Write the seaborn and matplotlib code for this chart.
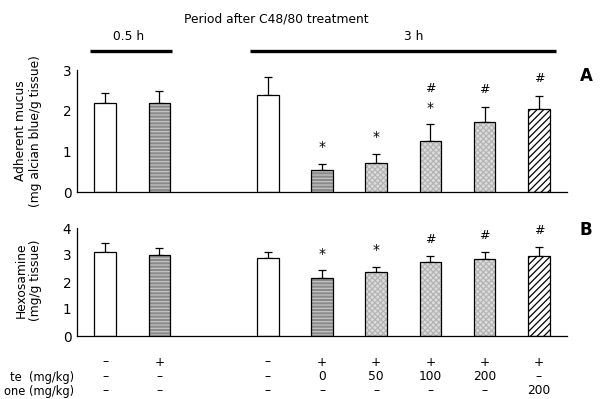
import matplotlib
matplotlib.use("Agg")
import matplotlib.pyplot as plt
import matplotlib.transforms as mtransforms
from matplotlib.patches import Rectangle
import numpy as np
import pandas as pd
import seaborn as sns


# groups (left to right)
conditions = ["0.5h vehicle", "0.5h C48/80", "3h vehicle", "3h C48/80",
              "3h C48/80 + 50", "3h C48/80 + 100", "3h C48/80 + 200", "3h C48/80 + ref"]

# panel A: adherent mucus (mg alcian blue / g tissue)
mucus_mean = [2.20, 2.18, 2.38, 0.55, 0.71, 1.26, 1.72, 2.05]
mucus_sem = [0.23, 0.30, 0.44, 0.14, 0.23, 0.40, 0.38, 0.32]
mucus_sig = ["", "", "", "*", "*", "*#", "#", "#"]

# panel B: hexosamine (mg / g tissue)
hexo_mean = [3.10, 2.99, 2.88, 2.16, 2.37, 2.73, 2.86, 2.96]
hexo_sem = [0.33, 0.26, 0.22, 0.27, 0.20, 0.24, 0.24, 0.32]
hexo_sig = ["", "", "", "*", "*", "#", "#", "#"]

# treatment table under the bars
row_c4880 = ["\u2013", "+", "\u2013", "+", "+", "+", "+", "+"]
row_dose = ["\u2013", "\u2013", "\u2013", "0", "50", "100", "200", "\u2013"]
row_ref = ["\u2013", "\u2013", "\u2013", "\u2013", "\u2013", "\u2013", "\u2013", "200"]
row_names = ["", "te  (mg/kg)", "one (mg/kg)"]

# bar looks: (face, hatch, hatch colour)
BAR_STYLE = [
    ("white", "", None),
    ("#8a8a8a", "-----", "#c4c4c4"),
    ("white", "", None),
    ("#8a8a8a", "-----", "#c4c4c4"),
    ("#dcdcdc", "xxxxxx", "#b4b4b4"),
    ("#dcdcdc", "xxxxxx", "#b4b4b4"),
    ("#dcdcdc", "xxxxxx", "#b4b4b4"),
    ("white", "/////", "black"),
]

W, H = 607, 399
GAP = "gap"
ORDER = conditions[:2] + [GAP] + conditions[2:]
FS = 8.8


def fx(px):
    return px / W


def fy(py):
    return 1 - py / H


def draw_panel(ax, means, sems, sigs, ymax, ylabel_y, ylabel):
    df = pd.DataFrame({"condition": conditions, "value": means})
    sns.barplot(data=df, x="condition", y="value", order=ORDER, width=0.4,
                color="white", errorbar=None, ax=ax, zorder=2)

    pos = [ORDER.index(c) for c in conditions]
    bars = sorted(ax.patches, key=lambda p: p.get_x())
    for bar, (face, hatch, hcol) in zip(bars, BAR_STYLE):
        bar.set_facecolor(face)
        if hatch:
            bar.set_hatch(hatch)
            bar.set_edgecolor(hcol)
            bar.set_linewidth(0)
            ax.add_patch(Rectangle((bar.get_x(), bar.get_y()), bar.get_width(),
                                   bar.get_height(), fill=False, edgecolor="black",
                                   linewidth=0.9, zorder=3))
        else:
            bar.set_edgecolor("black")
            bar.set_linewidth(0.9)

    ax.errorbar(pos, means, yerr=[np.zeros(len(sems)), sems], fmt="none",
                ecolor="black", elinewidth=0.9, capsize=2.6, capthick=0.9, zorder=1)

    for x, m, s, sig in zip(pos, means, sems, sigs):
        off = 12
        if "*" in sig:
            ax.annotate("*", (x, m + s), xytext=(0, off), textcoords="offset points",
                        ha="center", va="center", fontsize=10)
            off += 14
        if "#" in sig:
            ax.annotate("#", (x, m + s), xytext=(0, off), textcoords="offset points",
                        ha="center", va="center", fontsize=9)

    ax.set_xlim(-0.52, 8.52)
    ax.set_ylim(0, ymax)
    ax.set_yticks(range(ymax + 1))
    ax.set_xticks([])
    ax.set_xlabel("")
    ax.set_ylabel("")
    ax.tick_params(axis="y", direction="in", length=4, width=0.9, labelsize=9.8, pad=4,
                   colors="black")
    sns.despine(ax=ax)
    ax.spines["left"].set_linewidth(0.9)
    ax.spines["bottom"].set_linewidth(0.9)
    ax.spines["left"].set_color("black")
    ax.spines["bottom"].set_color("black")

    ax.figure.text(fx(28.5), ylabel_y, ylabel, rotation=90, ha="center", va="center",
                   multialignment="center", fontsize=FS, linespacing=1.2)


def main():
    sns.set_theme(style="white")
    plt.rcParams["font.family"] = ["DejaVu Sans"]
    plt.rcParams["text.color"] = "black"
    plt.rcParams["hatch.linewidth"] = 0.9

    fig = plt.figure(figsize=(W / 100, H / 100), dpi=100)
    ax_a = fig.add_axes([fx(77), fy(192), fx(567) - fx(77), fy(70) - fy(192)])
    ax_b = fig.add_axes([fx(77), fy(336), fx(567) - fx(77), fy(228) - fy(336)])

    draw_panel(ax_a, mucus_mean, mucus_sem, mucus_sig, 3, fy(131),
               "Adherent mucus\n(mg alcian blue/g tissue)")
    draw_panel(ax_b, hexo_mean, hexo_sem, hexo_sig, 4, fy(280),
               "Hexosamine\n(mg/g tissue)")

    # period annotations
    fig.text(fx(276), fy(19), "Period after C48/80 treatment", ha="center", va="center",
             fontsize=FS)
    fig.text(fx(129), fy(37), "0.5 h", ha="center", va="center", fontsize=FS)
    fig.text(fx(414), fy(37), "3 h", ha="center", va="center", fontsize=FS)
    fig.add_artist(plt.Line2D([fx(90), fx(172)], [fy(50.5), fy(50.5)], color="black",
                              linewidth=2.4, solid_capstyle="butt"))
    fig.add_artist(plt.Line2D([fx(250), fx(556)], [fy(50.5), fy(50.5)], color="black",
                              linewidth=2.4, solid_capstyle="butt"))

    fig.text(fx(586), fy(76), "A", ha="center", va="center", fontsize=12, fontweight="bold")
    fig.text(fx(586), fy(230), "B", ha="center", va="center", fontsize=12, fontweight="bold")

    # treatment table
    trans = mtransforms.blended_transform_factory(ax_b.transData, fig.transFigure)
    pos = [ORDER.index(c) for c in conditions]
    for row, name, ypx in zip([row_c4880, row_dose, row_ref], row_names, [362, 377, 391]):
        for x, txt in zip(pos, row):
            fig.text(x, fy(ypx), txt, transform=trans, ha="center", va="center",
                     fontsize=FS)
        if name:
            fig.text(fx(74), fy(ypx), name, ha="right", va="center", fontsize=8.3)

    fig.savefig("out.png", dpi=100)
    plt.close(fig)


if __name__ == "__main__":
    main()
